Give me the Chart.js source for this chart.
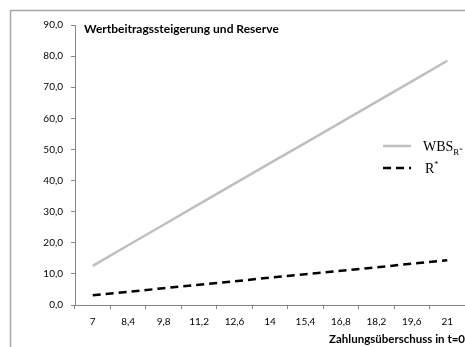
<!DOCTYPE html>
<html>
<head>
<meta charset="utf-8">
<script src="https://cdn.jsdelivr.net/npm/chart.js@4"></script>
<style>
  html, body { margin: 0; padding: 0; background: #fff; }
  canvas { display: block; }
</style>
</head>
<body>
<canvas id="chart" width="465" height="347"></canvas>
<script>
// Zahlungsüberschuss in t=0
const categories = ['7', '8,4', '9,8', '11,2', '12,6', '14', '15,4', '16,8', '18,2', '19,6', '21'];
// Wertbeitragssteigerung WBS_R*
const wbsValues = [12.6, 19.2, 25.8, 32.4, 39.0, 45.6, 52.1, 58.7, 65.3, 71.9, 78.5];
// Reserve R*
const reserveValues = [3.1, 4.2, 5.4, 6.5, 7.6, 8.8, 9.9, 11.0, 12.1, 13.3, 14.4];

const axisColor = '#868686';
const labelFont = { family: 'Lato', size: 10 };

const fmt = v => v.toFixed(1).replace('.', ',');

// frame, title and the small legend inside the plot
const decorations = {
    id: 'decorations',
    beforeDraw(chart) {
        const c = chart.ctx;
        c.save();
        c.fillStyle = '#fff';
        c.fillRect(0, 0, chart.width, chart.height);
        c.restore();
    },
    afterDraw(chart) {
        const c = chart.ctx;
        c.save();
        c.strokeStyle = '#a6a6a6';
        c.lineWidth = 1.5;
        c.strokeRect(10.5, 10.5, chart.width + 10, chart.height + 10);

        c.fillStyle = '#000';
        c.font = 'bold 12px Lato';
        c.textBaseline = 'middle';
        c.fillText('Wertbeitragssteigerung und Reserve', 84, 29);

        // legend entries
        c.lineWidth = 2.5;
        c.strokeStyle = '#bfbfbf';
        c.beginPath();
        c.moveTo(383, 146);
        c.lineTo(411, 146);
        c.stroke();

        c.strokeStyle = '#000';
        c.setLineDash([8, 5]);
        c.beginPath();
        c.moveTo(383, 168);
        c.lineTo(411, 168);
        c.stroke();
        c.setLineDash([]);

        c.textBaseline = 'alphabetic';
        c.font = '14px "Liberation Serif"';
        c.fillText('WBS', 423, 151);
        let w = c.measureText('WBS').width;
        c.font = '9px "Liberation Serif"';
        c.fillText('R', 423 + w, 155);
        let w2 = c.measureText('R').width;
        c.font = '7px "Liberation Serif"';
        c.fillText('*', 423 + w + w2, 152);

        c.font = '14px "Liberation Serif"';
        c.fillText('R', 425, 173);
        w = c.measureText('R').width;
        c.font = '8px "Liberation Serif"';
        c.fillText('*', 425 + w, 167);
        c.restore();
    }
};

new Chart(document.getElementById('chart'), {
    type: 'line',
    plugins: [decorations],
    data: {
        labels: categories,
        datasets: [
            {
                label: 'WBS',
                data: wbsValues,
                borderColor: '#bfbfbf',
                borderWidth: 2.5,
                pointRadius: 0,
                tension: 0
            },
            {
                label: 'R*',
                data: reserveValues,
                borderColor: '#000',
                borderWidth: 2.5,
                borderDash: [8, 5],
                pointRadius: 0,
                tension: 0
            }
        ]
    },
    options: {
        responsive: false,
        animation: false,
        layout: { padding: { left: 0, right: 0, top: 25, bottom: 0 } },
        plugins: {
            legend: { display: false },
            tooltip: { enabled: false }
        },
        scales: {
            x: {
                offset: true,
                afterFit: s => { s.height = 42; },
                border: { color: axisColor, width: 1 },
                grid: { offset: true, drawOnChartArea: false, tickLength: 4, color: axisColor },
                ticks: { color: '#000', font: labelFont, padding: 7, maxRotation: 0, autoSkip: false },
                title: {
                    display: true,
                    text: 'Zahlungsüberschuss in t=0',
                    align: 'end',
                    color: '#000',
                    font: { family: 'Lato', size: 11.5, weight: 'bold' },
                    padding: { top: 2, bottom: 1 }
                }
            },
            y: {
                min: 0,
                max: 90,
                afterFit: s => { s.width = 75; },
                border: { color: axisColor, width: 1 },
                grid: { drawOnChartArea: false, tickLength: 4, color: axisColor },
                ticks: {
                    stepSize: 10,
                    color: '#000',
                    font: labelFont,
                    padding: 8,
                    callback: v => fmt(v)
                }
            }
        }
    }
});
</script>
</body>
</html>
